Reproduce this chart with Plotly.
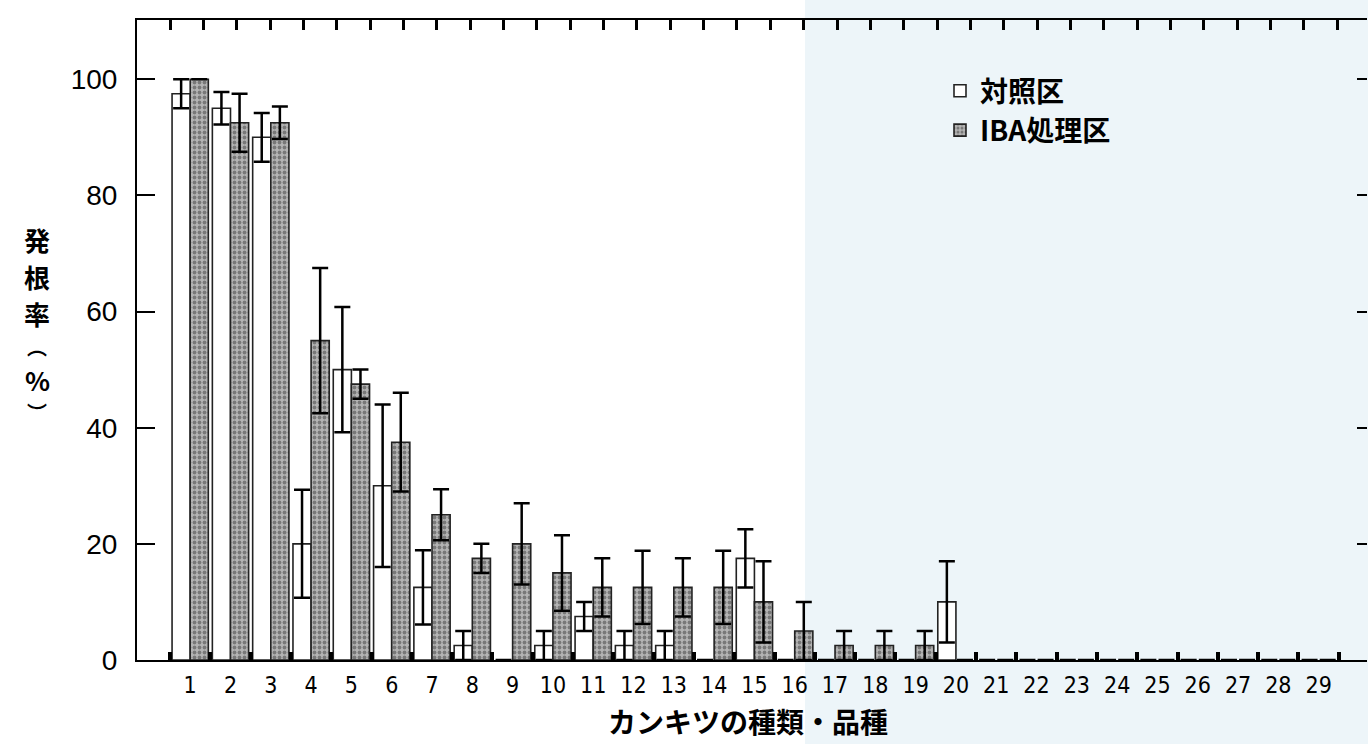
import plotly.graph_objects as go

# ---- data ----
categories = list(range(1, 30))
tick_labels = [str(c) for c in categories]

control_mean = [97.5, 95, 90, 20, 50, 30, 12.5, 2.5, 0, 2.5,
                7.5, 2.5, 2.5, 0, 17.5, 0, 0, 0, 0, 10,
                0, 0, 0, 0, 0, 0, 0, 0, 0]
control_se = [2.5, 2.8, 4.2, 9.3, 10.8, 14, 6.4, 2.5, None, 2.5,
              2.5, 2.5, 2.5, None, 5, None, None, None, None, 7,
              None, None, None, None, None, None, None, None, None]

iba_mean = [100, 92.5, 92.5, 55, 47.5, 37.5, 25, 17.5, 20, 15,
            12.5, 12.5, 12.5, 12.5, 10, 5, 2.5, 2.5, 2.5, 0,
            0, 0, 0, 0, 0, 0, 0, 0, 0]
iba_se = [0, 5, 2.8, 12.5, 2.5, 8.5, 4.4, 2.5, 7, 6.5,
          5, 6.3, 5, 6.3, 7, 5, 2.5, 2.5, 2.5, None,
          None, None, None, None, None, None, None, None, None]

series_names = ["対照区", "IBA処理区"]
x_title = "カンキツの種類・品種"
y_title_chars = ["発", "根", "率", "︵", "%", "︶"]
y_ticks = [0, 20, 40, 60, 80, 100]

# ---- figure ----
W, H = 1368, 744
ML, MR, MT, MB = 137, 1, 20, 84
plot_w = W - ML - MR
plot_h = H - MT - MB

cjk = "Noto Sans CJK JP, Noto Sans, sans-serif"
narrow = "Liberation Sans Narrow, DejaVu Sans Condensed, Arial Narrow, sans-serif"
sans = "Liberation Sans, Arial, Helvetica, sans-serif"


def outline_widths(values, w=1.6):
    # no outline for empty (zero) bars so the baseline stays a plain line
    return [w if v > 0 else 0 for v in values]


fig = go.Figure()

fig.add_trace(go.Bar(
    name=series_names[0], x=categories, y=control_mean,
    marker=dict(color="white",
                line=dict(color="#222222", width=outline_widths(control_mean))),
    error_y=dict(type="data", array=control_se, visible=True,
                 color="black", thickness=2.5, width=8),
))
fig.add_trace(go.Bar(
    name=series_names[1], x=categories, y=iba_mean,
    marker=dict(color="#aaaaaa",
                line=dict(color="#222222", width=outline_widths(iba_mean)),
                pattern=dict(shape=".", fgcolor="#3c3c3c", bgcolor="#b4b4b4",
                             size=5, solidity=0.45)),
    error_y=dict(type="data", array=iba_se, visible=True,
                 color="black", thickness=2.5, width=8),
))

# dummy traces so the overlay axes (top ticks, right ticks, bottom boundary ticks) render
fig.add_trace(go.Scatter(x=[None], y=[None], xaxis="x2", yaxis="y2",
                         showlegend=False, hoverinfo="skip"))
fig.add_trace(go.Scatter(x=[None], y=[None], xaxis="x3", yaxis="y",
                         showlegend=False, hoverinfo="skip"))

x_range = [-0.32, 30.2]
y_range = [0, 110.2]

# top tick axis: ticks every 33.35 px starting at px 170
top_step = 33.35
t0 = -(170 - ML) / top_step
top_range = [t0, t0 + plot_w / top_step]

fig.update_layout(
    width=W, height=H,
    margin=dict(l=ML, r=MR, t=MT, b=MB, pad=0),
    paper_bgcolor="white", plot_bgcolor="rgba(0,0,0,0)",
    barmode="group", bargap=0.1, bargroupgap=0.0,
    showlegend=True,
    legend=dict(x=(940 - ML) / plot_w, y=(660 - 66) / plot_h,
                xanchor="left", yanchor="top",
                font=dict(family=cjk, size=28, color="black", weight="bold"),
                bgcolor="rgba(0,0,0,0)", tracegroupgap=0, itemwidth=30),
    xaxis=dict(range=x_range, tickmode="array", tickvals=categories,
               ticktext=tick_labels, ticks="", showline=True, linewidth=2,
               linecolor="black", showgrid=False, zeroline=False,
               tickfont=dict(family=narrow, size=23, color="black"),
               ticklabelstandoff=3),
    xaxis2=dict(range=top_range, overlaying="x", side="top", anchor="y",
                tickmode="linear", tick0=0, dtick=1, ticks="inside",
                ticklen=10, tickwidth=2.5, tickcolor="black",
                showticklabels=False, showline=True, linewidth=2,
                linecolor="black", showgrid=False, zeroline=False),
    xaxis3=dict(range=x_range, overlaying="x", side="bottom", anchor="y",
                tickmode="linear", tick0=0.5, dtick=1, ticks="inside",
                ticklen=8, tickwidth=3.5, tickcolor="black",
                showticklabels=False, showline=False, showgrid=False,
                zeroline=False),
    yaxis=dict(range=y_range, tickmode="array", tickvals=y_ticks,
               ticks="inside", ticklen=18, tickwidth=2, tickcolor="black",
               showline=True, linewidth=2, linecolor="black",
               showgrid=False, zeroline=False,
               tickfont=dict(family=sans, size=28, color="black"),
               ticklabelstandoff=12),
    yaxis2=dict(range=y_range, overlaying="y", side="right", anchor="x",
                tickmode="array", tickvals=y_ticks[1:], ticks="inside",
                ticklen=10, tickwidth=2, tickcolor="black",
                showticklabels=False, showline=False, showgrid=False,
                zeroline=False),
)

# faint bluish scan tint on the right part of the page
fig.add_shape(type="rect", xref="paper", yref="paper",
              x0=(805 - ML) / plot_w, x1=1.02, y0=-0.15, y1=1.05,
              fillcolor="#edf5f9", line=dict(width=0), layer="below")

# x-axis title
fig.add_annotation(text=x_title, xref="paper", yref="paper",
                   x=(748 - ML) / plot_w, y=(660 - 721) / plot_h,
                   xanchor="center", yanchor="middle", showarrow=False,
                   font=dict(family=cjk, size=28, color="black", weight="bold"))

# vertical y-axis title: one annotation per character, stacked without overlap
top_px = 222
for ch in y_title_chars:
    size = 20 if ch in ("︵", "︶") else 26
    box = 1.3 * size + 2
    center = top_px + box / 2
    fig.add_annotation(text=ch, xref="paper", yref="paper",
                       x=(37 - ML) / plot_w, y=(660 - center) / plot_h,
                       xanchor="center", yanchor="middle", showarrow=False,
                       font=dict(family=cjk, size=size, color="black",
                                 weight="bold"))
    top_px += box + 1

fig.write_html("out.html")
